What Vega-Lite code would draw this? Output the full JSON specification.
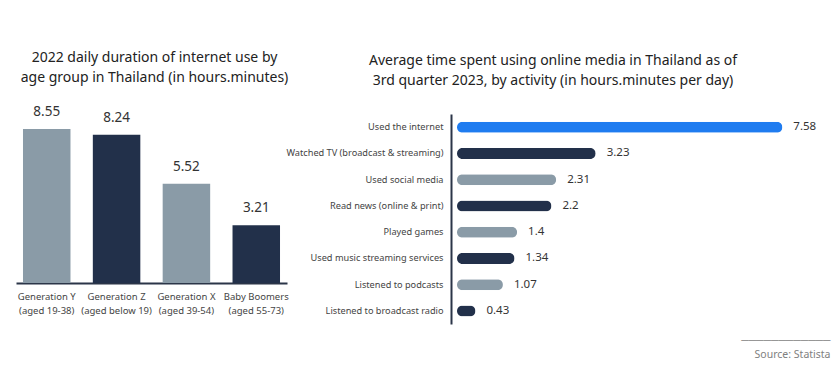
{
  "$schema": "https://vega.github.io/schema/vega-lite/v6.json",
  "padding": {"left": 16, "top": 51, "right": 4, "bottom": 4},
  "background": "white",
  "config": {
    "view": {"stroke": null},
    "font": "Noto Sans",
    "title": {"font": "Noto Sans", "fontSize": 14, "fontWeight": "normal", "color": "#222222", "lineHeight": 20}
  },
  "spacing": -4,
  "resolve": {"scale": {"color": "independent"}},
  "hconcat": [
    {
      "width": 271,
      "height": 169,
      "title": {
        "text": ["2022 daily duration of internet use by", "age group in Thailand (in hours.minutes)"],
        "anchor": "middle",
        "offset": 20,
        "dx": 3
      },
      "data": {
        "values": [
          {"group": "Generation Y|(aged 19-38)", "value": 8.55},
          {"group": "Generation Z|(aged below 19)", "value": 8.24},
          {"group": "Generation X|(aged 39-54)", "value": 5.52},
          {"group": "Baby Boomers|(aged 55-73)", "value": 3.21}
        ]
      },
      "encoding": {
        "x": {
          "field": "group", "type": "nominal", "sort": null,
          "scale": {"paddingInner": 0.32, "paddingOuter": 0.1},
          "axis": {
            "title": null, "labelAngle": 0, "ticks": false,
            "domainColor": "#2b3548", "domainWidth": 2,
            "labelExpr": "split(datum.label, '|')",
            "labelFontSize": 9.5, "labelColor": "#444444", "labelLineHeight": 14,
            "labelPadding": 8
          }
        },
        "y": {"field": "value", "type": "quantitative", "scale": {"domain": [0, 9.39]}, "axis": null}
      },
      "layer": [
        {
          "mark": {"type": "bar"},
          "encoding": {
            "color": {
              "field": "group", "type": "nominal", "legend": null,
              "scale": {
                "domain": ["Generation Y|(aged 19-38)", "Generation Z|(aged below 19)", "Generation X|(aged 39-54)", "Baby Boomers|(aged 55-73)"],
                "range": ["#8a9ba7", "#22304a", "#8a9ba7", "#22304a"]
              }
            }
          }
        },
        {
          "mark": {"type": "text", "baseline": "alphabetic", "dy": -13, "fontSize": 13.5, "color": "#333333"},
          "encoding": {"text": {"field": "value", "type": "quantitative"}}
        }
      ]
    },
    {
      "width": 373,
      "height": 210,
      "title": {
        "text": ["Average time spent using online media in Thailand as of", "3rd quarter 2023, by activity (in hours.minutes per day)"],
        "anchor": "middle",
        "frame": "bounds",
        "offset": 26,
        "dx": -5
      },
      "data": {
        "values": [
          {"activity": "Used the internet", "value": 7.58},
          {"activity": "Watched TV (broadcast & streaming)", "value": 3.23},
          {"activity": "Used social media", "value": 2.31},
          {"activity": "Read news (online & print)", "value": 2.2},
          {"activity": "Played games", "value": 1.4},
          {"activity": "Used music streaming services", "value": 1.34},
          {"activity": "Listened to podcasts", "value": 1.07},
          {"activity": "Listened to broadcast radio", "value": 0.43}
        ]
      },
      "encoding": {
        "y": {
          "field": "activity", "type": "nominal", "sort": null,
          "scale": {"paddingInner": 0, "paddingOuter": 0},
          "axis": {
            "title": null, "ticks": false, "offset": 6,
            "domainColor": "#2b3548", "domainWidth": 2,
            "labelFontSize": 9.2, "labelColor": "#444444", "labelPadding": 8
          }
        },
        "x": {
          "field": "value", "type": "quantitative", "scale": {"domain": [0, 8.69]},
          "axis": {
            "domain": false, "ticks": false, "labels": false, "grid": false,
            "title": ["────────────", "Source: Statista"],
            "titleAnchor": "end", "titleAlign": "right",
            "titleFont": "Noto Sans", "titleFontSize": 10.5, "titleFontWeight": "normal",
            "titleColor": "#808080", "titlePadding": 11, "titleLineHeight": 14
          }
        }
      },
      "layer": [
        {
          "mark": {"type": "bar", "height": 11, "cornerRadius": 5.5},
          "encoding": {
            "color": {
              "field": "activity", "type": "nominal", "legend": null,
              "scale": {
                "domain": ["Used the internet", "Watched TV (broadcast & streaming)", "Used social media", "Read news (online & print)", "Played games", "Used music streaming services", "Listened to podcasts", "Listened to broadcast radio"],
                "range": ["#1f7cf0", "#22304a", "#8a9ba7", "#22304a", "#8a9ba7", "#22304a", "#8a9ba7", "#22304a"]
              }
            }
          }
        },
        {
          "mark": {"type": "text", "align": "left", "baseline": "middle", "dx": 11, "fontSize": 11.5, "color": "#333333"},
          "encoding": {"text": {"field": "value", "type": "quantitative"}}
        }
      ]
    }
  ]
}
